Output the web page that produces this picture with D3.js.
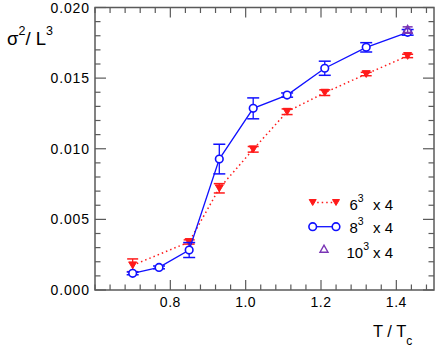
<!DOCTYPE html>
<html><head><meta charset="utf-8">
<script src="https://cdn.jsdelivr.net/npm/d3@7"></script>
<style>
html,body{margin:0;padding:0;background:#fff;}
text{font-family:"Liberation Sans",Arial,Helvetica,sans-serif;fill:#000;}
</style></head>
<body><svg id="c" width="436" height="348"></svg>
<script>
// data
const T6 = [0.70, 0.85, 0.93, 1.02, 1.11, 1.21, 1.32, 1.43];
const V6 = [0.00175, 0.0034, 0.0072, 0.00996, 0.01262, 0.01397, 0.01529, 0.01657];
const E6 = [0.00045, 0.00015, 0.00033, 0.0002, 0.0002, 0.0002, 0.00012, 0.00012];
const T8 = [0.70, 0.77, 0.85, 0.93, 1.02, 1.11, 1.21, 1.32, 1.43];
const V8 = [0.00118, 0.0016, 0.00283, 0.00927, 0.01286, 0.0138, 0.0157, 0.01718, 0.01824];
const E8 = [0.0001, 0.0001, 0.00053, 0.00105, 0.00074, 0.00015, 0.0005, 0.00033, 0.0002];
const T10 = [1.43];
const V10 = [0.01843];
const E10 = [0.0002];
const xTicks = [0.8, 1.0, 1.2, 1.4];
const yTicks = [0.000, 0.005, 0.010, 0.015, 0.020];

const svg = d3.select("#c");
const x = d3.scaleLinear().domain([0.6, 1.5]).range([95, 434]);
const y = d3.scaleLinear().domain([0, 0.02]).range([290, 7.5]);
const axisCol = "#5a5a5a";

// frame
const [x0, x1] = x.range(), [y0, y1] = y.range();
svg.append("rect").attr("x", x0).attr("y", y1).attr("width", x1 - x0).attr("height", y0 - y1)
  .attr("fill", "none").attr("stroke", axisCol).attr("stroke-width", 1.5);

// ticks
const g = svg.append("g").attr("stroke", axisCol).attr("stroke-width", 1.2);
const xMinor = d3.range(0, 23).map(i => 0.6 + i * 0.04).filter(v => v < 1.5);
xMinor.forEach(v => {
  const major = xTicks.some(t => Math.abs(t - v) < 1e-6);
  const L = major ? 10 : 5.5;
  g.append("line").attr("x1", x(v)).attr("x2", x(v)).attr("y1", y0).attr("y2", y0 - L);
  g.append("line").attr("x1", x(v)).attr("x2", x(v)).attr("y1", y1).attr("y2", y1 + L);
});
d3.range(0, 21).map(i => i * 0.001).forEach(v => {
  const major = yTicks.some(t => Math.abs(t - v) < 1e-9);
  const L = major ? 11 : 5.5;
  g.append("line").attr("y1", y(v)).attr("y2", y(v)).attr("x1", x0).attr("x2", x0 + L);
  g.append("line").attr("y1", y(v)).attr("y2", y(v)).attr("x1", x1).attr("x2", x1 - L);
});

// tick labels
xTicks.forEach(v => svg.append("text").attr("x", x(v)).attr("y", 307).attr("text-anchor", "middle")
  .attr("font-size", 14).attr("letter-spacing", 0.5).text(d3.format(".1f")(v)));
yTicks.forEach(v => svg.append("text").attr("x", 90).attr("y", y(v) + 5).attr("text-anchor", "end")
  .attr("font-size", 14).attr("letter-spacing", 0.9).text(d3.format(".3f")(v)));

// axis titles
const xt = svg.append("text").attr("x", 373).attr("y", 336.5).attr("font-size", 16.5);
xt.append("tspan").text("T / T");
xt.append("tspan").attr("font-size", 12).attr("dy", 8).text("c");
const yt = svg.append("text").attr("x", 7).attr("y", 45).attr("font-size", 18.5);
yt.append("tspan").text("σ");
yt.append("tspan").attr("font-size", 12.5).attr("dy", -10).text("2");
yt.append("tspan").attr("dy", 10).text("/ L");
yt.append("tspan").attr("font-size", 12.5).attr("dy", -10).text("3");

const line = d3.line().x(d => x(d[0])).y(d => y(d[1]));
const red = "#ff1a1a", blue = "#1010ff", purple = "#7a35b5";

function downTri(cx, cy, s) { return `M${cx - s},${cy - s * 0.85}L${cx + s},${cy - s * 0.85}L${cx},${cy + s * 0.85}Z`; }
function upTri(cx, cy, s) { return `M${cx - s},${cy + s * 0.8}L${cx + s},${cy + s * 0.8}L${cx},${cy - s * 0.95}Z`; }

function errBars(T, V, E, col, cap) {
  T.forEach((t, i) => {
    const cx = x(t), a = y(V[i] + E[i]), b = y(V[i] - E[i]);
    svg.append("line").attr("x1", cx).attr("x2", cx).attr("y1", a).attr("y2", b).attr("stroke", col).attr("stroke-width", 1.3);
    [a, b].forEach(yy => svg.append("line").attr("x1", cx - cap).attr("x2", cx + cap).attr("y1", yy).attr("y2", yy)
      .attr("stroke", col).attr("stroke-width", 1.5));
  });
}

// 6^3 x 4
svg.append("path").datum(T6.map((t, i) => [t, V6[i]])).attr("d", line).attr("fill", "none")
  .attr("stroke", red).attr("stroke-width", 1.5).attr("stroke-dasharray", "1.5,3");
errBars(T6, V6, E6, red, 5.5);
T6.forEach((t, i) => svg.append("path").attr("d", downTri(x(t), y(V6[i]), 4)).attr("fill", red).attr("stroke", red).attr("stroke-width", 1));

// 8^3 x 4
svg.append("path").datum(T8.map((t, i) => [t, V8[i]])).attr("d", line).attr("fill", "none")
  .attr("stroke", blue).attr("stroke-width", 1.3);
errBars(T8, V8, E8, blue, 6);
T8.forEach((t, i) => svg.append("circle").attr("cx", x(t)).attr("cy", y(V8[i])).attr("r", 3.8)
  .attr("fill", "#fff").attr("stroke", blue).attr("stroke-width", 1.6));

// 10^3 x 4
errBars(T10, V10, E10, purple, 5);
T10.forEach((t, i) => svg.append("path").attr("d", upTri(x(t), y(V10[i]), 4.5)).attr("fill", "none").attr("stroke", purple).attr("stroke-width", 1.4));

// legend
const lg = svg.append("g");
lg.append("line").attr("x1", 312.7).attr("x2", 336).attr("y1", 202.5).attr("y2", 202.5).attr("stroke", red)
  .attr("stroke-width", 1.5).attr("stroke-dasharray", "1.5,3");
[312.7, 336].forEach(cx => lg.append("path").attr("d", downTri(cx, 202.5, 3.5)).attr("fill", red).attr("stroke", red));
lg.append("line").attr("x1", 312.7).attr("x2", 336).attr("y1", 226.7).attr("y2", 226.7).attr("stroke", blue).attr("stroke-width", 1.3);
[312.7, 336].forEach(cx => lg.append("circle").attr("cx", cx).attr("cy", 226.7).attr("r", 3.8).attr("fill", "#fff")
  .attr("stroke", blue).attr("stroke-width", 1.6));
lg.append("path").attr("d", upTri(324, 249, 4)).attr("fill", "none").attr("stroke", purple).attr("stroke-width", 1.4);

const labels = [["6", 349.5, 210], ["8", 349.5, 233], ["10", 346.5, 257.5]];
labels.forEach(([n, lx, ly]) => {
  const t = lg.append("text").attr("x", lx).attr("y", ly).attr("font-size", 15);
  t.append("tspan").text(n);
  t.append("tspan").attr("font-size", 10.5).attr("dy", -8).text("3");
  t.append("tspan").attr("dy", 8).attr("x", 373).text("x 4");
});
</script></body></html>
